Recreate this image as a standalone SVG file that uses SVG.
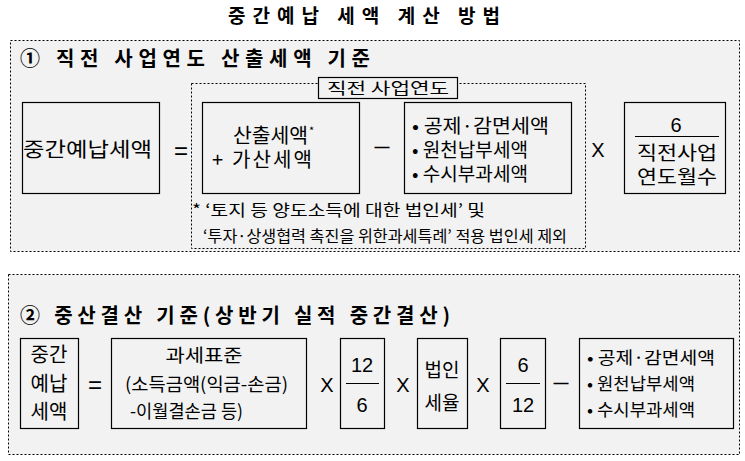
<svg xmlns="http://www.w3.org/2000/svg" width="745" height="461" viewBox="0 0 745 461">
<style>
.panel{fill:#f2f2f2;stroke:#000;stroke-width:1;stroke-dasharray:2,2}
.inner{fill:none;stroke:#000;stroke-width:1;stroke-dasharray:2,2}
.box{fill:#f2f2f2;stroke:#000;stroke-width:1.2}
.t{font-family:"Noto Sans CJK KR","Noto Sans",sans-serif;fill:#000}
.h{font-family:"Noto Sans CJK KR","Noto Sans",sans-serif;font-weight:bold;fill:#000}
.op{font-family:"Liberation Sans",Arial,sans-serif;fill:#000}
.frac{stroke:#000;stroke-width:1}
</style>
<rect width="745" height="461" fill="#fff"/>
<text id="title" class="h" x="228" y="23" font-size="19" textLength="272" lengthAdjust="spacing">중간예납 세액 계산 방법</text>

<g id="panel1">
<rect class="panel" x="10.5" y="40.5" width="729" height="211"/>
<text class="h" x="20" y="66" font-size="20" textLength="350" lengthAdjust="spacing">① 직전 사업연도 산출세액 기준</text>
<rect class="inner" x="191.5" y="83.5" width="394" height="165"/>
</g>
<g id="label-prev-year">
<rect class="box" x="318.5" y="77.5" width="139" height="21"/>
<text class="t" x="388" y="94" font-size="16" text-anchor="middle" textLength="122" lengthAdjust="spacingAndGlyphs">직전 사업연도</text>
</g>
<g id="p1-interim">
<rect class="box" x="22.5" y="102.5" width="137" height="91"/>
<text class="t" x="23" y="157" font-size="20" textLength="129" lengthAdjust="spacingAndGlyphs">중간예납세액</text>
</g>
<g id="p1-calc">
<rect class="box" x="202.5" y="102.5" width="157" height="91"/>
<text class="t" x="233" y="143" font-size="20" textLength="75" lengthAdjust="spacingAndGlyphs">산출세액</text>
<text class="t" x="309" y="135" font-size="11">*</text>
<text class="t" x="212" y="167" font-size="20" textLength="100" lengthAdjust="spacing">+ 가산세액</text>
</g>
<g id="p1-deduct">
<rect class="box" x="404.5" y="102.5" width="167" height="91"/>
<text class="t" x="412" y="133" font-size="19" textLength="137" lengthAdjust="spacingAndGlyphs">• 공제·감면세액</text>
<text class="t" x="412" y="157" font-size="19" textLength="116" lengthAdjust="spacingAndGlyphs">• 원천납부세액</text>
<text class="t" x="412" y="181" font-size="19" textLength="116" lengthAdjust="spacingAndGlyphs">• 수시부과세액</text>
</g>
<g id="p1-fraction">
<rect class="box" x="624.5" y="102.5" width="101" height="91"/>
<text class="op" x="676" y="132" font-size="20" text-anchor="middle">6</text>
<line class="frac" x1="635" y1="136.5" x2="719" y2="136.5"/>
<text class="t" x="677" y="160" font-size="19" text-anchor="middle" textLength="80" lengthAdjust="spacingAndGlyphs">직전사업</text>
<text class="t" x="677" y="184" font-size="19" text-anchor="middle" textLength="80" lengthAdjust="spacingAndGlyphs">연도월수</text>
</g>
<g id="footnote">
<text class="t" x="192" y="216" font-size="16" textLength="293" lengthAdjust="spacingAndGlyphs">* ‘토지 등 양도소득에 대한 법인세’ 및</text>
<text class="t" x="203" y="242" font-size="16" textLength="364" lengthAdjust="spacingAndGlyphs">‘투자·상생협력 촉진을 위한과세특례’ 적용 법인세 제외</text>
</g>

<g id="panel2">
<rect class="panel" x="8.5" y="274.5" width="731" height="180"/>
<text class="h" x="20" y="323" font-size="20" textLength="430" lengthAdjust="spacing">② 중산결산 기준(상반기 실적 중간결산)</text>
</g>
<g id="p2-interim">
<rect class="box" x="20.5" y="338.5" width="58" height="90"/>
<text class="t" x="49" y="362" font-size="20" text-anchor="middle">중간</text>
<text class="t" x="49" y="391" font-size="20" text-anchor="middle">예납</text>
<text class="t" x="49" y="419" font-size="20" text-anchor="middle">세액</text>
</g>
<g id="p2-base">
<rect class="box" x="111.5" y="338.5" width="195" height="90"/>
<text class="t" x="204" y="362" font-size="18" text-anchor="middle" textLength="77" lengthAdjust="spacingAndGlyphs">과세표준</text>
<text class="t" x="125" y="391" font-size="18" textLength="163" lengthAdjust="spacingAndGlyphs">(소득금액(익금-손금)</text>
<text class="t" x="130" y="418" font-size="18" textLength="113" lengthAdjust="spacingAndGlyphs">-이월결손금 등)</text>
</g>
<g id="p2-frac12">
<rect class="box" x="340.5" y="338.5" width="44" height="90"/>
<text class="op" x="362" y="372" font-size="20" text-anchor="middle">12</text>
<line class="frac" x1="346" y1="383.5" x2="379" y2="383.5"/>
<text class="op" x="362" y="412" font-size="20" text-anchor="middle">6</text>
</g>
<g id="p2-rate">
<rect class="box" x="417.5" y="338.5" width="50" height="90"/>
<text class="t" x="442" y="377" font-size="19" text-anchor="middle">법인</text>
<text class="t" x="442" y="410" font-size="19" text-anchor="middle">세율</text>
</g>
<g id="p2-frac6">
<rect class="box" x="500.5" y="338.5" width="45" height="90"/>
<text class="op" x="523" y="372" font-size="20" text-anchor="middle">6</text>
<line class="frac" x1="506" y1="383.5" x2="540" y2="383.5"/>
<text class="op" x="523" y="412" font-size="20" text-anchor="middle">12</text>
</g>
<g id="p2-deduct">
<rect class="box" x="579.5" y="338.5" width="154" height="90"/>
<text class="t" x="587" y="364" font-size="17" textLength="128" lengthAdjust="spacingAndGlyphs">• 공제·감면세액</text>
<text class="t" x="587" y="390" font-size="17" textLength="108" lengthAdjust="spacingAndGlyphs">• 원천납부세액</text>
<text class="t" x="587" y="416" font-size="17" textLength="108" lengthAdjust="spacingAndGlyphs">• 수시부과세액</text>
</g>

<g id="connectors">
<text class="op" x="181" y="159" font-size="24" text-anchor="middle">=</text>
<text class="op" x="382" y="152" font-size="15" font-weight="bold" text-anchor="middle">—</text>
<text class="op" x="598" y="157" font-size="20" text-anchor="middle">X</text>
<text class="op" x="95" y="393" font-size="24" text-anchor="middle">=</text>
<text class="op" x="327" y="392" font-size="20" text-anchor="middle">X</text>
<text class="op" x="403" y="392" font-size="20" text-anchor="middle">X</text>
<text class="op" x="483" y="392" font-size="20" text-anchor="middle">X</text>
<text class="op" x="561" y="388" font-size="15" font-weight="bold" text-anchor="middle">—</text>
</g>
</svg>
